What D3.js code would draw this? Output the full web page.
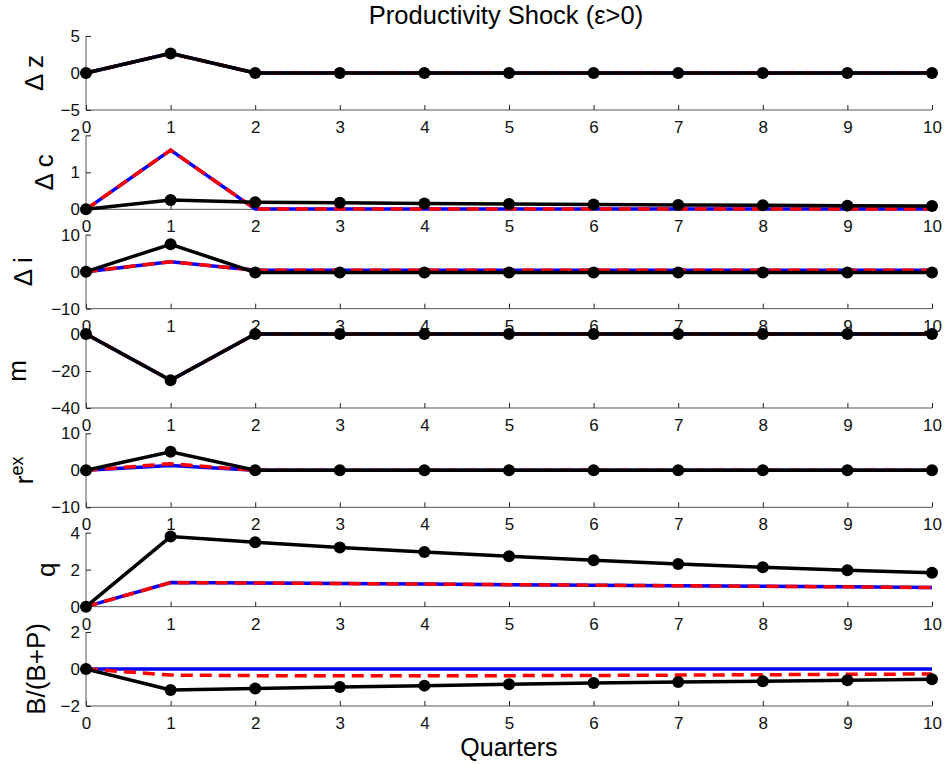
<!DOCTYPE html>
<html><head><meta charset="utf-8">
<script src="https://cdn.jsdelivr.net/npm/d3@7"></script>
<style>body{margin:0;background:#fff;} svg{display:block;font-family:"Liberation Sans",Arial,sans-serif;}</style>
</head><body>
<script>
const quarters = [0,1,2,3,4,5,6,7,8,9,10];
const xTicks = [0,1,2,3,4,5,6,7,8,9,10];

const dzBlue  = [0,2.65,0,0,0,0,0,0,0,0,0];
const dzRed   = [0,2.65,0,0,0,0,0,0,0,0,0];
const dzBlack = [0,2.65,0,0,0,0,0,0,0,0,0];

const dcBlue  = [0,1.6,0.01,0.01,0.01,0.01,0.01,0.01,0.01,0.01,0.01];
const dcRed   = [0,1.6,0.01,0.01,0.01,0.01,0.01,0.01,0.01,0.01,0.01];
const dcBlack = [0,0.25,0.19,0.175,0.16,0.145,0.13,0.12,0.11,0.10,0.09];

const diBlue  = [0,2.7,0.4,0.4,0.4,0.4,0.4,0.4,0.4,0.4,0.4];
const diRed   = [0,2.7,0.4,0.4,0.4,0.4,0.4,0.4,0.4,0.4,0.4];
const diBlack = [0,7.4,-0.2,-0.2,-0.2,-0.2,-0.2,-0.2,-0.2,-0.2,-0.2];

const mBlue  = [0,-25,0,0,0,0,0,0,0,0,0];
const mRed   = [0,-25,0,0,0,0,0,0,0,0,0];
const mBlack = [0,-25,0,0,0,0,0,0,0,0,0];

const rexBlue  = [0,1.3,0,0,0,0,0,0,0,0,0];
const rexRed   = [0,1.8,0,0,0,0,0,0,0,0,0];
const rexBlack = [0,5.0,0,0,0,0,0,0,0,0,0];

const qBlue  = [0,1.30,1.28,1.25,1.22,1.19,1.16,1.13,1.10,1.07,1.03];
const qRed   = [0,1.30,1.28,1.25,1.22,1.19,1.16,1.13,1.10,1.07,1.03];
const qBlack = [0,3.79,3.48,3.2,2.95,2.72,2.51,2.31,2.13,1.97,1.83];

const bBlue  = [0,0,0,0,0,0,0,0,0,0,0];
const bRed   = [0,-0.33,-0.36,-0.37,-0.37,-0.36,-0.35,-0.33,-0.31,-0.29,-0.27];
const bBlack = [0,-1.14,-1.05,-0.98,-0.90,-0.82,-0.76,-0.71,-0.66,-0.61,-0.56];

const panelLabels = ["Δ z","Δ c","Δ i","m","r","q","B/(B+P)"];
const panelDomains = [[-5,5],[0,2],[-10,10],[-40,0],[-10,10],[0,4],[-2,2]];
const panelTicks = [[-5,0,5],[0,1,2],[-10,0,10],[-40,-20,0],[-10,0,10],[0,2,4],[-2,0,2]];
const panelSeries = [
  [dzBlue,dzRed,dzBlack],[dcBlue,dcRed,dcBlack],[diBlue,diRed,diBlack],
  [mBlue,mRed,mBlack],[rexBlue,rexRed,rexBlack],[qBlue,qRed,qBlack],[bBlue,bRed,bBlack]
];
const titleText = "Productivity Shock (ε>0)";
const xLabelText = "Quarters";

const W = 947, H = 764;
const svg = d3.select("body").append("svg").attr("width",W).attr("height",H);
const x = d3.scaleLinear().domain([0,10]).range([86,932]);
const top0 = 36, step = 99.33, ph = 74;
const axisColor = "#555";
const labelBaselineX = [43,53,32,26,33,55,45];
const fmt = v => v < 0 ? "\u2212" + Math.abs(v) : String(v);

svg.append("text").attr("x",506).attr("y",24).attr("text-anchor","middle")
  .attr("font-size",25.5).text(titleText);

panelSeries.forEach((series, k) => {
  const t = top0 + k*step, b = t + ph;
  const y = d3.scaleLinear().domain(panelDomains[k]).range([b,t]);
  const g = svg.append("g");
  const xa = g.append("g").attr("transform",`translate(0,${b})`)
    .call(d3.axisBottom(x).tickValues(xTicks).tickSize(-5).tickPadding(11).tickFormat(d=>d));
  xa.select(".domain").attr("stroke",axisColor).attr("d",`M86,0H932`);
  xa.selectAll(".tick line").attr("stroke","#222");
  xa.selectAll(".tick text").attr("font-size",17).attr("fill","#111").attr("font-family","Liberation Sans, Arial, sans-serif");
  const ya = g.append("g").attr("transform",`translate(86,0)`)
    .call(d3.axisLeft(y).tickValues(panelTicks[k]).tickSize(-5).tickPadding(6).tickFormat(fmt));
  ya.select(".domain").attr("stroke",axisColor).attr("d",`M0,${t}V${b}`);
  ya.selectAll(".tick line").attr("stroke","#222");
  ya.selectAll(".tick text").attr("font-size",17).attr("fill","#111").attr("font-family","Liberation Sans, Arial, sans-serif");

  const cy = (t+b)/2;
  const lab = g.append("text").attr("transform",`translate(${labelBaselineX[k]},${cy}) rotate(-90)`)
    .attr("text-anchor","middle").attr("font-size",26).attr("fill","#000");
  if (k === 4) {
    lab.append("tspan").text("r");
    lab.append("tspan").attr("dy",-10).attr("font-size",18).text("ex");
  } else lab.text(panelLabels[k]);

  const line = d3.line().x((d,i)=>x(quarters[i])).y(d=>y(d));
  const [sb, sr, sk] = series;
  g.append("path").datum(sb).attr("d",line).attr("fill","none").attr("stroke","#0000ff").attr("stroke-width",3.5);
  g.append("path").datum(sr).attr("d",line).attr("fill","none").attr("stroke","#ff0000").attr("stroke-width",3.5).attr("stroke-dasharray","12,7");
  g.append("path").datum(sk).attr("d",line).attr("fill","none").attr("stroke","#000").attr("stroke-width",3.5);
  g.selectAll("circle.m").data(sk).join("circle").attr("class","m")
    .attr("cx",(d,i)=>x(quarters[i])).attr("cy",d=>y(d)).attr("r",6).attr("fill","#000");
});

svg.append("text").attr("x",509).attr("y",756).attr("text-anchor","middle")
  .attr("font-size",25).text(xLabelText);
</script>
</body></html>
